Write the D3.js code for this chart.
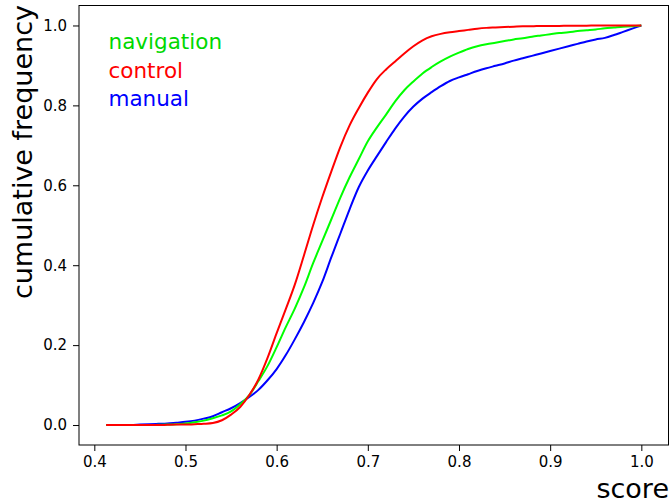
<!DOCTYPE html>
<html><head><meta charset="utf-8">
<script src="https://cdn.jsdelivr.net/npm/d3@7"></script>
<style>body{margin:0;background:#fff}svg{display:block}text{font-family:"DejaVu Sans",sans-serif}</style>
</head><body><svg id="c" width="670" height="504"></svg>
<script>
const scores = [0.413,0.42,0.43,0.44,0.45,0.46,0.47,0.48,0.49,0.50,0.51,0.52,0.53,0.54,0.55,0.56,0.57,0.58,0.59,0.60,0.61,0.62,0.63,0.64,0.65,0.66,0.67,0.68,0.69,0.70,0.71,0.72,0.73,0.74,0.75,0.76,0.77,0.78,0.79,0.80,0.81,0.82,0.83,0.84,0.85,0.86,0.87,0.88,0.89,0.90,0.91,0.92,0.93,0.94,0.95,0.96,0.97,0.98,0.99,1.00];
const navigation = [0,0,0,0,0,0,0.0005,0.001,0.002,0.004,0.007,0.011,0.017,0.024,0.034,0.052,0.075,0.11,0.148,0.195,0.245,0.292,0.345,0.405,0.46,0.515,0.57,0.62,0.665,0.71,0.745,0.777,0.81,0.838,0.86,0.88,0.896,0.91,0.922,0.932,0.941,0.948,0.953,0.957,0.961,0.965,0.968,0.972,0.975,0.978,0.981,0.983,0.986,0.988,0.99,0.993,0.995,0.997,0.998,1.0];
const control = [0,0,0,0,0,0,0,0.0005,0.001,0.001,0.002,0.003,0.005,0.012,0.026,0.045,0.075,0.114,0.168,0.23,0.29,0.352,0.425,0.50,0.57,0.635,0.697,0.75,0.793,0.832,0.866,0.89,0.91,0.93,0.948,0.963,0.973,0.979,0.983,0.986,0.989,0.992,0.994,0.995,0.996,0.997,0.998,0.998,0.999,0.999,0.999,0.9995,0.9995,0.9995,1.0,1.0,1.0,1.0,1.0,1.0];
const manual = [0,0,0,0,0.001,0.002,0.003,0.004,0.006,0.008,0.011,0.016,0.022,0.032,0.042,0.055,0.07,0.088,0.112,0.14,0.175,0.215,0.258,0.305,0.358,0.42,0.48,0.54,0.595,0.637,0.673,0.708,0.742,0.772,0.797,0.817,0.833,0.848,0.861,0.87,0.878,0.886,0.893,0.899,0.905,0.912,0.918,0.924,0.93,0.936,0.942,0.948,0.954,0.96,0.965,0.969,0.976,0.984,0.992,1.0];
const xTicks = [0.4,0.5,0.6,0.7,0.8,0.9,1.0];
const yTicks = [0.0,0.2,0.4,0.6,0.8,1.0];
const seriesNames = ["navigation","control","manual"];
const seriesColors = ["#00ff00","#ff0000","#0000ff"];
const labelColors = ["#00d800","#ff0000","#0000ff"];

const svg = d3.select("#c");
const L=79, R=668.5, T=5.5, B=445;
const x = d3.scaleLinear().domain([0.3832,1.0298]).range([L,R]);
const y = d3.scaleLinear().domain([-0.05,1.05]).range([B,T]);

const seriesData = [navigation, control, manual];
const line = d3.line().x((d,i)=>x(scores[i])).y(d=>y(d)).curve(d3.curveMonotoneX);
[2,0,1].forEach(k=>{
  svg.append("path").datum(seriesData[k]).attr("d",line)
    .attr("fill","none").attr("stroke",seriesColors[k]).attr("stroke-width",2).attr("stroke-linejoin","round");
});

const xa = svg.append("g").attr("transform",`translate(0,${B})`)
  .call(d3.axisBottom(x).tickValues(xTicks).tickFormat(d3.format(".1f")).tickSize(6).tickPadding(5));
const ya = svg.append("g").attr("transform",`translate(${L},0)`)
  .call(d3.axisLeft(y).tickValues(yTicks).tickFormat(d3.format(".1f")).tickSize(6).tickPadding(6));
[xa,ya].forEach(a=>{
  a.select(".domain").remove();
  a.selectAll("line").attr("stroke","#000").attr("stroke-width",1);
  a.selectAll("text").attr("font-size",15).attr("fill","#000").attr("font-family","DejaVu Sans");
});
svg.append("rect").attr("x",L).attr("y",T).attr("width",R-L).attr("height",B-T)
  .attr("fill","none").attr("stroke","#000").attr("stroke-width",1);

svg.append("text").attr("x",669).attr("y",498).attr("text-anchor","end")
  .attr("font-size",27).attr("fill","#000").text("score");
svg.append("text").attr("transform","translate(32,5) rotate(-90)").attr("text-anchor","end")
  .attr("font-size",27).attr("fill","#000").text("cumulative frequency");

seriesNames.forEach((n,i)=>{
  svg.append("text").attr("x",108.5).attr("y",49+i*28.5).attr("font-size",21.5)
    .attr("fill",labelColors[i]).text(n);
});
</script></body></html>
